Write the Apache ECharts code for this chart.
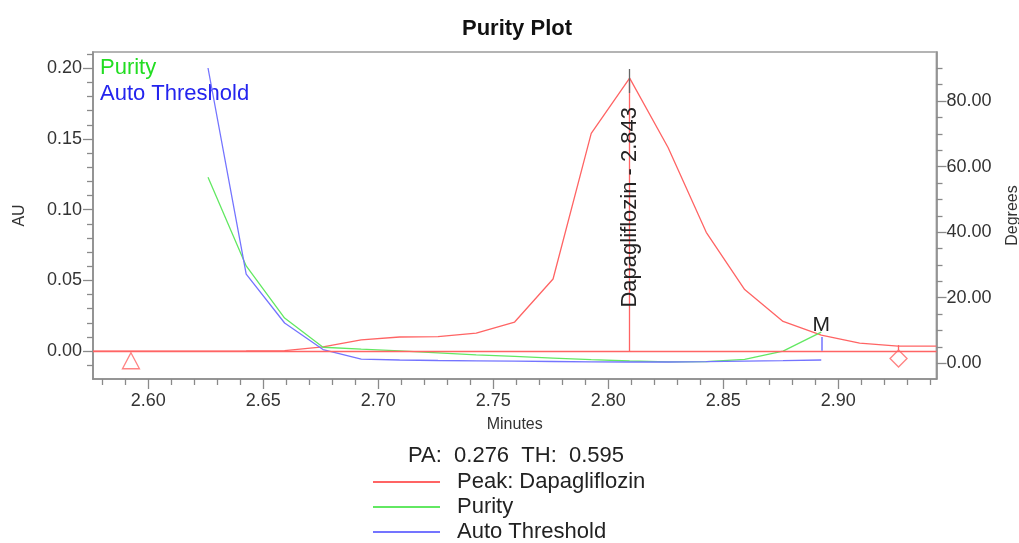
<!DOCTYPE html>
<html>
<head>
<meta charset="utf-8">
<script src="https://cdn.jsdelivr.net/npm/echarts@6/dist/echarts.min.js"></script>
<style>
html,body{margin:0;padding:0;background:#fff;}
#chart{width:1019px;height:543px;}
</style>
</head>
<body>
<div id="chart"></div>
<script>
// ---- data ----
const times = [2.5760, 2.5926, 2.6093, 2.6260, 2.6426, 2.6593, 2.6760, 2.6926, 2.7093, 2.7260, 2.7426, 2.7593,
               2.7760, 2.7926, 2.8093, 2.8260, 2.8426, 2.8593, 2.8760, 2.8926, 2.9093, 2.9260, 2.9426];
const peakAU = [0, 0, 0, 0, 0.0001, 0.0004, 0.003, 0.008, 0.010, 0.0103, 0.0128, 0.0206,
                0.051, 0.154, 0.193, 0.144, 0.084, 0.0435, 0.021, 0.0114, 0.0057, 0.0036, 0.0036];
const purityTimes = [2.6260, 2.6426, 2.6593, 2.6760, 2.6926, 2.7093, 2.7260, 2.7426, 2.7593,
                     2.7760, 2.7926, 2.8093, 2.8260, 2.8426, 2.8593, 2.8760, 2.8926];
const purityDeg = [56.8, 29.7, 13.8, 4.9, 4.3, 3.8, 3.2, 2.6, 2.1, 1.6, 1.1, 0.7, 0.45, 0.5, 1.2, 3.7, 9.5];
const thresholdDeg = [90.1, 27.2, 12.3, 4.2, 1.3, 1.0, 0.85, 0.75, 0.65, 0.55, 0.45, 0.4, 0.4, 0.5, 0.65, 0.8, 1.0];

const peakName = 'Dapagliflozin';
const peakRT = 2.8093;          // apex time on the axis
const peakLabelRT = '2.843';    // retention time as printed
const peakTickTop = 0.1995, peakTickBottom = 0.1825;
const startMarker = [2.5925, -0.0068];
const endMarker = [2.9262, -0.0052];
const endTick = [0.0008, 0.0043];
const matchTime = 2.8926;
const matchStub = [3.8, 8.0];
const PA = '0.276', TH = '0.595';

const auTicks = [0, 0.05, 0.10, 0.15, 0.20];
const degTicks = [0, 20, 40, 60, 80];
const minuteTicks = [2.60, 2.65, 2.70, 2.75, 2.80, 2.85, 2.90];
const auRange = [-0.0197, 0.2115];
const degRange = [-4.79, 94.98];
const minuteRange = [2.576, 2.9427];

function minor(from, to, step, majors) {
  const out = [];
  for (let k = Math.round(from / step); k * step <= to + 1e-9; k++) {
    const v = +(k * step).toFixed(6);
    if (v < from - 1e-9) continue;
    if (!majors.some(m => Math.abs(m - v) < 1e-9)) out.push(v);
  }
  return out;
}
const auMinor = minor(-0.01, 0.21, 0.01, auTicks);
const degMinor = minor(0, 90, 5, degTicks);
const minuteMinor = minor(2.58, 2.94, 0.01, minuteTicks);

const FONT = '"Liberation Sans", Arial, Helvetica, sans-serif';
const RED = '#ff6464', GREEN = '#62e862', BLUE = '#7474ff';
const AXIS = '#8a8a8a', TXT = '#333';

const chart = echarts.init(document.getElementById('chart'), null, {renderer: 'canvas'});

const lineAxis = {show: true, onZero: false, lineStyle: {color: AXIS, width: 1.5}};
const noLine = {show: false, onZero: false};
const option = {
  animation: false,
  backgroundColor: '#fff',
  textStyle: {fontFamily: FONT},
  title: {
    text: 'Purity Plot', left: 457, top: 13,
    textStyle: {fontFamily: FONT, fontSize: 22, fontWeight: 'bold', color: '#111'}
  },
  grid: {left: 93, right: 82.5, top: 52, bottom: 164, show: true, borderColor: '#b4b4b4', borderWidth: 2,
         backgroundColor: 'transparent', containLabel: false, outerBoundsMode: 'none'},
  legend: {
    orient: 'vertical', left: 373, top: 471, itemGap: 3, padding: 0, height: 80,
    icon: 'rect', itemWidth: 67, itemHeight: 2,
    selectedMode: false,
    data: ['Peak: ' + peakName, 'Purity', 'Auto Threshold'],
    textStyle: {fontFamily: FONT, fontSize: 22, color: '#222', lineHeight: 22, padding: [0, 0, 0, 12]}
  },
  xAxis: [{
    type: 'value', min: minuteRange[0], max: minuteRange[1], position: 'bottom',
    name: 'Minutes', nameLocation: 'middle', nameGap: 38,
    nameTextStyle: {fontFamily: FONT, fontSize: 16, color: TXT},
    axisLine: lineAxis,
    axisTick: {show: true, length: 10, customValues: minuteTicks, lineStyle: {color: AXIS, width: 1.3}},
    axisLabel: {show: true, customValues: minuteTicks, margin: 13, fontFamily: FONT, fontSize: 18, color: TXT,
                formatter: v => v.toFixed(2)},
    splitLine: {show: false}
  }, {
    type: 'value', min: minuteRange[0], max: minuteRange[1], position: 'bottom',
    axisLine: noLine,
    axisTick: {show: true, length: 6, customValues: minuteMinor, lineStyle: {color: AXIS, width: 1.3}},
    axisLabel: {show: false}, splitLine: {show: false}
  }],
  yAxis: [{
    type: 'value', min: auRange[0], max: auRange[1], position: 'left',
    name: 'AU', nameLocation: 'middle', nameGap: 65, nameRotate: 90,
    nameTextStyle: {fontFamily: FONT, fontSize: 16, color: TXT},
    axisLine: lineAxis,
    axisTick: {show: true, length: 10, customValues: auTicks, lineStyle: {color: AXIS, width: 1.3}},
    axisLabel: {show: true, customValues: auTicks, margin: 11, fontFamily: FONT, fontSize: 18, color: TXT,
                formatter: v => v.toFixed(2)},
    splitLine: {show: false}
  }, {
    type: 'value', min: degRange[0], max: degRange[1], position: 'right',
    name: 'Degrees', nameLocation: 'middle', nameGap: 68, nameRotate: 90,
    nameTextStyle: {fontFamily: FONT, fontSize: 16, color: TXT},
    axisLine: lineAxis,
    axisTick: {show: true, length: 10, customValues: degTicks, lineStyle: {color: AXIS, width: 1.3}},
    axisLabel: {show: true, customValues: degTicks, margin: 10, fontFamily: FONT, fontSize: 18, color: TXT,
                formatter: v => v.toFixed(2)},
    splitLine: {show: false}
  }, {
    type: 'value', min: auRange[0], max: auRange[1], position: 'left',
    axisLine: noLine,
    axisTick: {show: true, length: 6, customValues: auMinor, lineStyle: {color: AXIS, width: 1.3}},
    axisLabel: {show: false}, splitLine: {show: false}
  }, {
    type: 'value', min: degRange[0], max: degRange[1], position: 'right',
    axisLine: noLine,
    axisTick: {show: true, length: 6, customValues: degMinor, lineStyle: {color: AXIS, width: 1.3}},
    axisLabel: {show: false}, splitLine: {show: false}
  }],
  graphic: [
    {type: 'text', left: 100, top: 57, style: {text: 'Purity', font: '22px ' + FONT, fill: '#22dd22'}},
    {type: 'text', left: 100, top: 83, style: {text: 'Auto Threshold', font: '22px ' + FONT, fill: '#2424ee'}},
    {type: 'text', left: 408, top: 445, style: {text: 'PA:  ' + PA + '  TH:  ' + TH, font: '22px ' + FONT, fill: '#222'}}
  ],
  series: [{
    name: 'Peak: ' + peakName, type: 'line', xAxisIndex: 0, yAxisIndex: 0,
    data: times.map((t, i) => [t, peakAU[i]]),
    showSymbol: false, symbol: 'none', color: RED,
    lineStyle: {color: RED, width: 1.3},
    z: 2,
    markLine: {
      silent: true, symbol: 'none', animation: false,
      label: {show: false},
      lineStyle: {color: RED, width: 1.3, type: 'solid'},
      data: [
        {yAxis: 0},
        [{coord: [peakRT, 0]}, {coord: [peakRT, peakAU[times.indexOf(peakRT)]]}],
        [{coord: [peakRT, peakTickBottom], lineStyle: {color: '#666', width: 1.3, type: 'solid'}},
         {coord: [peakRT, peakTickTop]}],
        [{coord: [endMarker[0], endTick[0]]}, {coord: [endMarker[0], endTick[1]]}]
      ]
    },
    markPoint: {
      silent: true, symbol: 'circle', symbolSize: 0,
      data: [{
        coord: [peakRT, peakAU[times.indexOf(peakRT)] * 0.527],
        label: {show: true, position: 'inside', rotate: 90,
                formatter: peakName + ' - ' + peakLabelRT,
                fontFamily: FONT, fontSize: 22, color: '#222'}
      }]
    }
  }, {
    name: 'Purity', type: 'line', xAxisIndex: 0, yAxisIndex: 1,
    data: purityTimes.map((t, i) => [t, purityDeg[i]]),
    showSymbol: false, symbol: 'none', color: GREEN,
    lineStyle: {color: GREEN, width: 1.3}, z: 3,
    markPoint: {
      silent: true, symbol: 'circle', symbolSize: 0,
      data: [{
        coord: [matchTime, purityDeg[purityDeg.length - 1]],
        label: {show: true, position: 'top', distance: 0, offset: [0, 4], formatter: 'M',
                fontFamily: FONT, fontSize: 21, color: '#222'}
      }]
    }
  }, {
    name: 'Auto Threshold', type: 'line', xAxisIndex: 0, yAxisIndex: 1,
    data: purityTimes.map((t, i) => [t, thresholdDeg[i]]),
    showSymbol: false, symbol: 'none', color: BLUE,
    lineStyle: {color: BLUE, width: 1.3}, z: 4,
    markLine: {
      silent: true, symbol: 'none', label: {show: false},
      lineStyle: {color: BLUE, width: 1.5, type: 'solid'},
      data: [[{coord: [matchTime, matchStub[0]]}, {coord: [matchTime, matchStub[1]]}]]
    }
  }, {
    name: 'start', type: 'scatter', xAxisIndex: 0, yAxisIndex: 0,
    data: [startMarker], symbol: 'triangle', symbolSize: [17, 16],
    itemStyle: {color: 'rgba(255,255,255,0)', borderColor: RED, borderWidth: 1.3}, z: 5
  }, {
    name: 'end', type: 'scatter', xAxisIndex: 0, yAxisIndex: 0,
    data: [endMarker], symbol: 'diamond', symbolSize: [17, 17],
    itemStyle: {color: 'rgba(255,255,255,0)', borderColor: RED, borderWidth: 1.3}, z: 5
  }]
};
chart.setOption(option);
</script>
</body>
</html>
